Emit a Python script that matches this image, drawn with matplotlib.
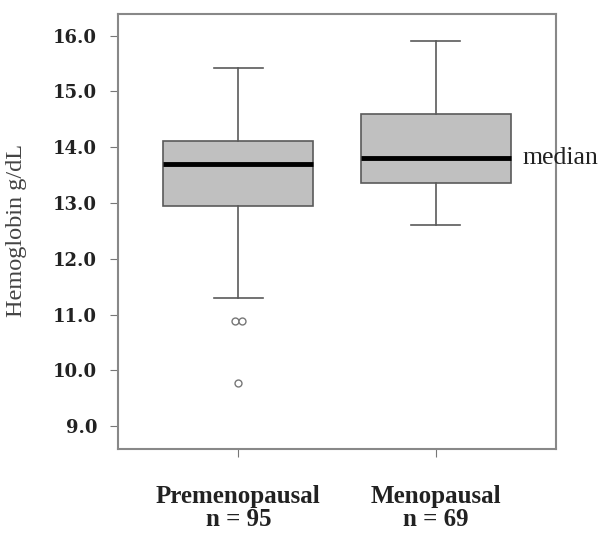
import matplotlib
matplotlib.use("Agg")
import matplotlib.pyplot as plt
import numpy as np

# values (g/dL)
groups = ["Premenopausal\nn = 95", "Menopausal\nn = 69"]
whislo = [11.30, 12.61]
q1 = [12.95, 13.36]
med = [13.70, 13.81]
q3 = [14.11, 14.60]
whishi = [15.43, 15.91]
fliers = [[10.88, 10.88, 9.77], []]
yticks = [9.0, 10.0, 11.0, 12.0, 13.0, 14.0, 15.0, 16.0]

plt.rcParams['font.family'] = ['Liberation Serif', 'DejaVu Serif']

fig = plt.figure(figsize=(5.99, 5.36), dpi=100)
ax = fig.add_axes([0.197, 0.162, 0.731, 0.812])

stats = []
for i in range(len(groups)):
    stats.append(dict(whislo=whislo[i], q1=q1[i], med=med[i], q3=q3[i],
                      whishi=whishi[i], fliers=[]))

edge = '#5a5a5a'
ax.bxp(stats, positions=[1, 2], widths=0.76, patch_artist=True,
       showfliers=False,
       boxprops=dict(facecolor='#c0c0c0', edgecolor=edge, linewidth=1.2),
       medianprops=dict(color='black', linewidth=3.5),
       whiskerprops=dict(color=edge, linewidth=1.2),
       capprops=dict(color=edge, linewidth=1.2),
       capwidths=0.25)

# outliers, tied values drawn side by side
for i, fl in enumerate(fliers):
    vals = np.array(fl)
    for v in np.unique(vals):
        n = int(np.sum(vals == v))
        offs = (np.arange(n) - (n - 1) / 2) * 0.035
        ax.plot(i + 1 + offs, [v] * n, 'o', ms=5, mfc='white',
                mec='#777777', mew=1.0)

ax.set_xlim(0.39, 2.61)
ax.set_ylim(8.59, 16.39)
ax.set_yticks(yticks)
ax.set_yticklabels(['%.1f' % t for t in yticks], fontsize=13,
                   fontweight='bold', color='#222222', family='DejaVu Serif')
ax.set_xticks([1, 2])
ax.set_xticklabels(groups, fontsize=18, fontweight='bold', color='#222222',
                   linespacing=1.0)
ax.tick_params(axis='x', length=6, pad=20, color='#777777')
ax.tick_params(axis='y', length=6, pad=9, color='#777777')
ax.set_ylabel('Hemoglobin g/dL', fontsize=17.5, color='#444444')
ax.yaxis.set_label_coords(-0.208, 0.502)

for s in ax.spines.values():
    s.set_color('#888888')
    s.set_linewidth(1.5)

ax.text(2.44, med[1], 'median', fontsize=18.5, color='#222222',
        va='center', ha='left', clip_on=False)

fig.savefig('out.png', dpi=100)
